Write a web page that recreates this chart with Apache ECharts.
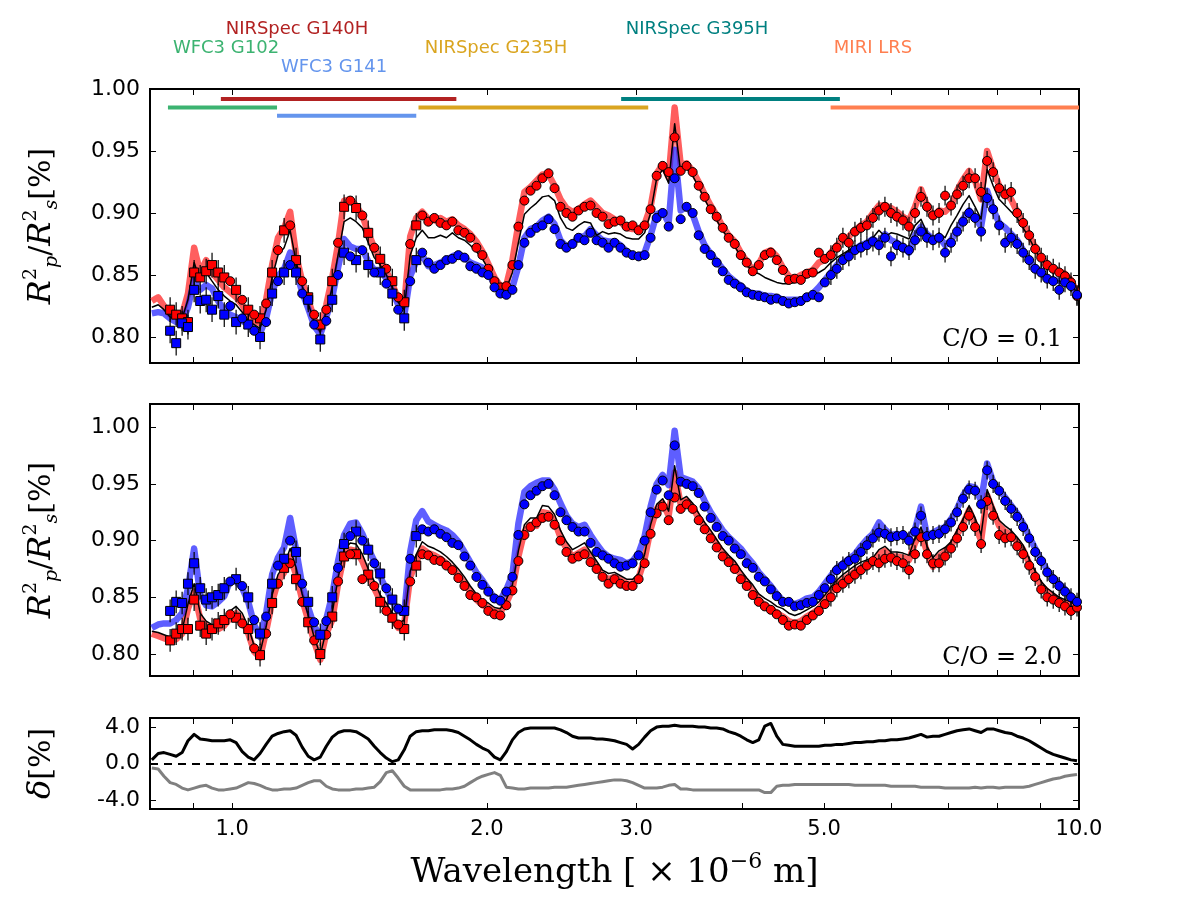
<!DOCTYPE html>
<html>
<head>
<meta charset="utf-8">
<title>Transmission spectra</title>
<script src="https://cdn.jsdelivr.net/npm/echarts@6/dist/echarts.min.js"></script>
<style>
body { margin: 0; background: #fff; }
#main { width: 1200px; height: 900px; }
</style>
</head>
<body>
<div id="main"></div>
<script type="text/javascript">
// wavelength grid [micron]
var wave = [
  0.804,0.818,0.831,0.845,0.859,0.873,0.887,0.902,0.917,0.932,
  0.947,0.963,0.979,0.995,1.011,1.028,1.045,1.062,1.079,1.097,
  1.115,1.133,1.152,1.171,1.190,1.210,1.230,1.250,1.271,1.292,
  1.313,1.334,1.356,1.379,1.401,1.425,1.448,1.472,1.496,1.521,
  1.546,1.571,1.597,1.623,1.650,1.677,1.705,1.733,1.762,1.791,
  1.820,1.850,1.881,1.911,1.943,1.975,2.007,2.041,2.074,2.108,
  2.143,2.178,2.214,2.251,2.288,2.325,2.364,2.403,2.442,2.482,
  2.523,2.565,2.607,2.650,2.694,2.738,2.783,2.829,2.875,2.923,
  2.971,3.020,3.070,3.120,3.172,3.224,3.277,3.331,3.386,3.441,
  3.498,3.556,3.614,3.674,3.734,3.796,3.858,3.922,3.987,4.052,
  4.119,4.187,4.256,4.326,4.397,4.470,4.543,4.618,4.694,4.771,
  4.850,4.930,5.011,5.094,5.177,5.263,5.349,5.438,5.527,5.618,
  5.711,5.805,5.900,5.998,6.096,6.197,6.299,6.403,6.508,6.615,
  6.724,6.835,6.948,7.062,7.178,7.297,7.417,7.539,7.663,7.789,
  7.918,8.048,8.181,8.315,8.452,8.591,8.733,8.877,9.023,9.172,
  9.323,9.476,9.626,9.785,9.946
];

// C/O = 0.1 : models
var red1 = [
  0.829,0.832,0.825,0.818,0.817,0.818,0.835,0.872,0.852,0.862,
  0.852,0.846,0.840,0.836,0.832,0.826,0.817,0.813,0.811,0.830,
  0.858,0.880,0.888,0.901,0.866,0.845,0.830,0.815,0.806,0.826,
  0.848,0.875,0.910,0.911,0.906,0.898,0.884,0.872,0.862,0.853,
  0.843,0.830,0.826,0.881,0.896,0.901,0.895,0.894,0.896,0.893,
  0.895,0.890,0.887,0.883,0.877,0.869,0.859,0.848,0.841,0.842,
  0.862,0.891,0.917,0.921,0.926,0.931,0.931,0.922,0.911,0.904,
  0.901,0.903,0.907,0.910,0.905,0.900,0.898,0.895,0.893,0.888,
  0.887,0.887,0.891,0.905,0.932,0.939,0.929,0.985,0.939,0.940,
  0.934,0.925,0.915,0.906,0.898,0.889,0.882,0.877,0.868,0.861,
  0.854,0.859,0.868,0.870,0.865,0.856,0.849,0.847,0.850,0.852,
  0.854,0.860,0.862,0.868,0.874,0.878,0.881,0.886,0.890,0.893,
  0.900,0.906,0.906,0.904,0.901,0.897,0.894,0.905,0.919,0.906,
  0.897,0.902,0.901,0.906,0.918,0.927,0.934,0.926,0.911,0.950,
  0.935,0.922,0.916,0.911,0.901,0.892,0.882,0.872,0.864,0.859,
  0.855,0.853,0.851,0.846,0.836
];
var blue1 = [
  0.819,0.820,0.819,0.815,0.812,0.812,0.824,0.846,0.838,0.842,
  0.839,0.829,0.821,0.818,0.816,0.813,0.810,0.806,0.803,0.815,
  0.836,0.849,0.855,0.868,0.854,0.836,0.823,0.809,0.802,0.816,
  0.832,0.856,0.879,0.873,0.871,0.871,0.861,0.854,0.854,0.847,
  0.837,0.826,0.817,0.849,0.861,0.866,0.857,0.858,0.860,0.862,
  0.865,0.867,0.864,0.860,0.858,0.856,0.851,0.843,0.838,0.836,
  0.840,0.857,0.880,0.887,0.889,0.894,0.897,0.891,0.878,0.873,
  0.875,0.881,0.881,0.887,0.882,0.878,0.877,0.877,0.874,0.869,
  0.866,0.865,0.868,0.882,0.899,0.901,0.892,0.951,0.902,0.905,
  0.899,0.885,0.874,0.867,0.861,0.855,0.849,0.845,0.841,0.837,
  0.835,0.835,0.833,0.833,0.832,0.830,0.830,0.830,0.830,0.831,
  0.835,0.840,0.846,0.852,0.858,0.863,0.867,0.871,0.874,0.876,
  0.879,0.876,0.883,0.878,0.876,0.873,0.868,0.882,0.889,0.883,
  0.879,0.881,0.874,0.878,0.886,0.895,0.902,0.896,0.889,0.918,
  0.903,0.892,0.888,0.883,0.878,0.870,0.862,0.855,0.852,0.847,
  0.846,0.845,0.844,0.841,0.835
];
var black1 = [
  0.824,0.826,0.822,0.816,0.815,0.815,0.830,0.860,0.845,0.852,
  0.845,0.838,0.833,0.829,0.826,0.820,0.813,0.810,0.807,0.822,
  0.848,0.866,0.872,0.886,0.861,0.841,0.827,0.812,0.804,0.821,
  0.840,0.866,0.893,0.896,0.893,0.888,0.876,0.864,0.858,0.850,
  0.840,0.828,0.822,0.866,0.880,0.886,0.880,0.880,0.882,0.880,
  0.884,0.880,0.878,0.874,0.869,0.863,0.855,0.846,0.840,0.839,
  0.852,0.876,0.899,0.904,0.908,0.913,0.914,0.910,0.896,0.888,
  0.886,0.890,0.893,0.892,0.882,0.885,0.883,0.884,0.883,0.880,
  0.879,0.879,0.884,0.900,0.928,0.935,0.924,0.972,0.933,0.936,
  0.930,0.921,0.911,0.902,0.894,0.886,0.879,0.873,0.865,0.858,
  0.853,0.851,0.848,0.846,0.844,0.843,0.843,0.844,0.846,0.848,
  0.850,0.852,0.855,0.860,0.864,0.867,0.870,0.873,0.875,0.877,
  0.880,0.886,0.881,0.884,0.883,0.881,0.879,0.890,0.895,0.884,
  0.880,0.884,0.880,0.890,0.898,0.907,0.914,0.905,0.895,0.935,
  0.922,0.911,0.906,0.901,0.896,0.888,0.880,0.870,0.862,0.857,
  0.853,0.851,0.849,0.844,0.835
];
// C/O = 0.1 : simulated observations
var redObs1 = [
  null,null,null,0.822,0.818,0.815,0.812,0.852,0.848,0.853,
  0.858,0.852,0.848,0.845,0.838,0.830,0.822,0.818,0.815,0.827,
  0.852,0.870,0.886,0.890,0.862,0.845,0.832,0.818,0.810,0.822,
  0.845,0.876,0.905,0.910,0.904,0.898,0.884,0.872,0.863,0.855,
  0.845,0.832,0.828,0.875,0.890,0.898,0.893,0.896,0.892,0.890,
  0.893,0.886,0.884,0.880,0.872,0.866,0.855,0.845,0.840,0.841,
  0.858,0.889,0.910,0.918,0.922,0.928,0.932,0.920,0.905,0.900,
  0.897,0.902,0.905,0.906,0.900,0.897,0.891,0.893,0.894,0.889,
  0.890,0.886,0.890,0.903,0.930,0.938,0.933,0.961,0.934,0.938,
  0.933,0.922,0.913,0.903,0.897,0.888,0.880,0.875,0.866,0.860,
  0.853,0.858,0.866,0.868,0.862,0.854,0.846,0.847,0.846,0.851,
  0.852,0.868,0.863,0.866,0.872,0.880,0.876,0.885,0.888,0.890,
  0.896,0.902,0.905,0.900,0.897,0.894,0.889,0.900,0.913,0.905,
  0.898,0.900,0.914,0.906,0.915,0.922,0.928,0.928,0.917,0.942,
  0.933,0.920,0.915,0.917,0.900,0.892,0.882,0.871,0.864,0.858,
  0.855,0.852,0.849,0.844,0.833
];
var blueObs1 = [
  null,null,null,0.805,0.795,0.811,0.808,0.838,0.829,0.830,
  0.822,0.833,0.818,0.825,0.812,0.815,0.810,0.805,0.800,0.812,
  0.835,0.845,0.852,0.858,0.852,0.835,0.830,0.810,0.798,0.813,
  0.830,0.850,0.868,0.865,0.862,0.870,0.858,0.852,0.852,0.843,
  0.835,0.822,0.815,0.845,0.862,0.868,0.860,0.855,0.858,0.862,
  0.863,0.866,0.864,0.857,0.855,0.852,0.850,0.840,0.835,0.834,
  0.838,0.858,0.876,0.884,0.888,0.890,0.895,0.887,0.875,0.872,
  0.875,0.880,0.878,0.884,0.878,0.876,0.872,0.876,0.872,0.868,
  0.866,0.865,0.866,0.880,0.896,0.900,0.889,0.928,0.895,0.905,
  0.900,0.882,0.871,0.866,0.860,0.853,0.846,0.843,0.840,0.836,
  0.834,0.833,0.832,0.830,0.831,0.829,0.827,0.828,0.829,0.832,
  0.834,0.832,0.844,0.850,0.855,0.862,0.865,0.870,0.872,0.874,
  0.877,0.874,0.880,0.865,0.874,0.872,0.870,0.878,0.885,0.880,
  0.878,0.880,0.868,0.876,0.885,0.893,0.900,0.896,0.885,0.912,
  0.903,0.890,0.876,0.880,0.875,0.868,0.862,0.855,0.852,0.847,
  0.845,0.838,0.844,0.841,0.834
];

// C/O = 2.0 : models
var red2 = [
  0.818,0.816,0.814,0.812,0.813,0.818,0.840,0.855,0.831,0.825,
  0.822,0.822,0.825,0.832,0.836,0.830,0.818,0.802,0.797,0.820,
  0.846,0.864,0.872,0.886,0.870,0.848,0.830,0.811,0.795,0.818,
  0.830,0.862,0.887,0.892,0.891,0.882,0.869,0.858,0.847,0.840,
  0.832,0.823,0.827,0.868,0.881,0.893,0.889,0.887,0.884,0.880,
  0.875,0.869,0.862,0.855,0.848,0.843,0.841,0.837,0.837,0.845,
  0.857,0.886,0.908,0.914,0.913,0.925,0.924,0.917,0.903,0.893,
  0.886,0.889,0.892,0.884,0.877,0.869,0.866,0.868,0.865,0.862,
  0.862,0.867,0.884,0.910,0.928,0.933,0.922,0.960,0.932,0.935,
  0.929,0.920,0.912,0.905,0.897,0.889,0.883,0.878,0.870,0.863,
  0.856,0.848,0.843,0.840,0.836,0.833,0.829,0.827,0.829,0.833,
  0.836,0.840,0.847,0.854,0.860,0.865,0.869,0.873,0.876,0.878,
  0.880,0.888,0.891,0.886,0.886,0.885,0.883,0.898,0.907,0.890,
  0.877,0.886,0.890,0.895,0.905,0.915,0.927,0.914,0.900,0.940,
  0.926,0.913,0.908,0.905,0.899,0.892,0.880,0.869,0.860,0.855,
  0.851,0.847,0.845,0.843,0.840
];
var blue2 = [
  0.823,0.826,0.827,0.827,0.830,0.836,0.858,0.893,0.852,0.843,
  0.842,0.846,0.851,0.865,0.864,0.858,0.846,0.826,0.815,0.836,
  0.870,0.885,0.894,0.920,0.892,0.861,0.841,0.825,0.815,0.831,
  0.852,0.882,0.905,0.915,0.916,0.906,0.893,0.882,0.868,0.857,
  0.846,0.838,0.836,0.890,0.918,0.926,0.917,0.914,0.911,0.909,
  0.905,0.899,0.890,0.881,0.872,0.865,0.857,0.849,0.848,0.857,
  0.870,0.915,0.943,0.948,0.951,0.953,0.953,0.945,0.933,0.922,
  0.915,0.912,0.914,0.905,0.897,0.890,0.886,0.884,0.883,0.880,
  0.882,0.889,0.904,0.930,0.950,0.958,0.949,0.997,0.956,0.954,
  0.952,0.946,0.935,0.925,0.917,0.909,0.903,0.898,0.893,0.886,
  0.880,0.872,0.866,0.860,0.853,0.847,0.845,0.844,0.846,0.849,
  0.850,0.855,0.862,0.869,0.876,0.880,0.884,0.888,0.895,0.901,
  0.906,0.916,0.910,0.905,0.906,0.905,0.903,0.910,0.930,0.905,
  0.907,0.910,0.912,0.919,0.928,0.940,0.948,0.947,0.935,0.968,
  0.952,0.945,0.938,0.931,0.924,0.915,0.904,0.893,0.883,0.874,
  0.867,0.862,0.857,0.851,0.845
];
var black2 = [
  0.820,0.819,0.817,0.815,0.816,0.821,0.844,0.862,0.836,0.829,
  0.826,0.826,0.830,0.838,0.842,0.836,0.824,0.807,0.801,0.824,
  0.852,0.870,0.878,0.893,0.876,0.853,0.834,0.815,0.799,0.821,
  0.836,0.867,0.892,0.898,0.897,0.888,0.875,0.864,0.852,0.845,
  0.836,0.827,0.830,0.873,0.888,0.899,0.895,0.893,0.890,0.886,
  0.881,0.875,0.868,0.860,0.853,0.847,0.845,0.841,0.840,0.848,
  0.861,0.891,0.914,0.920,0.920,0.931,0.930,0.923,0.909,0.899,
  0.892,0.895,0.898,0.890,0.882,0.874,0.871,0.872,0.869,0.866,
  0.866,0.871,0.888,0.914,0.932,0.937,0.926,0.966,0.936,0.939,
  0.933,0.924,0.916,0.909,0.901,0.893,0.887,0.882,0.874,0.867,
  0.861,0.853,0.849,0.846,0.842,0.840,0.836,0.834,0.836,0.839,
  0.842,0.846,0.852,0.859,0.865,0.870,0.874,0.878,0.881,0.883,
  0.885,0.892,0.895,0.890,0.890,0.889,0.887,0.902,0.912,0.895,
  0.885,0.891,0.894,0.899,0.909,0.919,0.931,0.920,0.905,0.945,
  0.931,0.918,0.913,0.909,0.903,0.896,0.884,0.873,0.864,0.858,
  0.854,0.850,0.848,0.846,0.842
];
// C/O = 2.0 : simulated observations
var redObs2 = [
  null,null,null,0.812,0.818,0.822,0.822,0.848,0.825,0.818,
  0.822,0.827,0.830,0.835,0.832,0.827,0.822,0.805,0.799,0.818,
  0.845,0.862,0.876,0.880,0.866,0.846,0.828,0.812,0.800,0.817,
  0.833,0.864,0.886,0.888,0.888,0.866,0.870,0.860,0.846,0.838,
  0.832,0.826,0.822,0.864,0.878,0.888,0.887,0.883,0.882,0.878,
  0.874,0.867,0.860,0.852,0.850,0.845,0.838,0.835,0.834,0.843,
  0.856,0.882,0.905,0.912,0.916,0.920,0.921,0.914,0.900,0.890,
  0.884,0.886,0.888,0.881,0.875,0.868,0.862,0.866,0.862,0.860,
  0.860,0.866,0.880,0.906,0.924,0.930,0.918,0.938,0.928,0.932,
  0.928,0.918,0.910,0.902,0.894,0.886,0.881,0.875,0.866,0.860,
  0.852,0.846,0.842,0.839,0.835,0.830,0.825,0.826,0.825,0.830,
  0.834,0.838,0.844,0.850,0.858,0.862,0.866,0.870,0.874,0.878,
  0.882,0.880,0.884,0.885,0.882,0.880,0.874,0.888,0.903,0.888,
  0.880,0.880,0.886,0.893,0.902,0.912,0.922,0.912,0.897,0.935,
  0.922,0.905,0.902,0.903,0.895,0.888,0.878,0.868,0.857,0.850,
  0.848,0.845,0.842,0.838,0.841
];
var blueObs2 = [
  null,null,null,0.838,0.846,0.845,0.862,0.880,0.858,0.848,
  0.850,0.852,0.858,0.864,0.866,0.860,0.850,0.830,0.818,0.833,
  0.862,0.878,0.884,0.900,0.890,0.862,0.846,0.828,0.817,0.829,
  0.850,0.876,0.897,0.904,0.908,0.900,0.892,0.880,0.871,0.858,
  0.848,0.840,0.838,0.884,0.904,0.910,0.908,0.910,0.906,0.903,
  0.898,0.896,0.886,0.878,0.868,0.861,0.855,0.849,0.847,0.855,
  0.868,0.905,0.932,0.940,0.944,0.948,0.950,0.940,0.925,0.918,
  0.912,0.908,0.908,0.898,0.890,0.887,0.884,0.880,0.877,0.878,
  0.880,0.887,0.900,0.925,0.945,0.953,0.940,0.984,0.952,0.950,
  0.948,0.942,0.930,0.920,0.912,0.904,0.900,0.893,0.888,0.880,
  0.876,0.868,0.864,0.857,0.851,0.846,0.846,0.842,0.843,0.845,
  0.846,0.852,0.858,0.866,0.874,0.878,0.882,0.884,0.890,0.896,
  0.902,0.907,0.906,0.903,0.904,0.905,0.900,0.908,0.922,0.904,
  0.905,0.906,0.910,0.916,0.925,0.937,0.945,0.944,0.932,0.962,
  0.950,0.944,0.935,0.928,0.921,0.912,0.902,0.890,0.882,0.872,
  0.866,0.860,0.855,0.850,0.846
];

// relative difference [%]
var deltaHigh = [
  0.4,1.1,1.2,1.0,0.8,1.2,2.5,3.2,2.7,2.6,
  2.5,2.5,2.5,2.6,2.3,1.3,0.7,0.4,1.1,2.1,
  3.0,3.3,3.5,3.6,3.1,1.8,0.8,0.4,0.7,1.9,
  2.9,3.4,3.6,3.6,3.5,3.1,2.7,1.9,1.2,0.6,
  0.2,0.4,1.5,3.0,3.5,3.6,3.6,3.7,3.7,3.7,
  3.6,3.4,3.0,2.6,2.1,1.7,1.4,0.7,0.4,1.3,
  2.6,3.4,3.8,3.9,3.9,3.9,3.9,3.9,3.7,3.4,
  3.0,2.8,2.8,2.8,2.7,2.7,2.6,2.5,2.3,2.1,
  1.6,2.1,2.9,3.6,4.0,4.1,4.1,4.2,4.1,4.1,
  4.1,4.0,4.0,3.9,3.9,3.8,3.5,3.3,3.0,2.6,
  2.3,2.6,4.1,4.4,3.0,2.1,2.0,1.9,1.9,1.9,
  1.9,1.9,2.0,2.0,2.1,2.1,2.2,2.3,2.3,2.4,
  2.4,2.5,2.5,2.6,2.6,2.7,2.8,3.0,3.2,2.9,
  3.0,3.0,3.2,3.4,3.6,3.7,3.8,3.6,3.4,3.8,
  3.8,3.6,3.4,3.3,3.0,2.8,2.5,2.1,1.7,1.3,
  1.0,0.8,0.6,0.4,0.3
];
var deltaLow = [
  -0.5,-0.6,-1.4,-2.1,-2.3,-2.7,-2.9,-2.7,-2.5,-2.4,
  -2.7,-2.9,-2.9,-2.8,-2.7,-2.4,-2.1,-2.2,-2.4,-2.7,
  -2.9,-2.9,-2.8,-2.8,-2.7,-2.4,-2.1,-1.9,-1.9,-2.5,
  -2.8,-2.9,-2.9,-2.9,-2.8,-2.8,-2.7,-2.6,-2.0,-1.0,
  -0.8,-1.6,-2.5,-2.9,-2.9,-2.9,-2.9,-2.9,-2.9,-2.8,
  -2.8,-2.7,-2.5,-2.1,-1.7,-1.4,-1.2,-1.0,-1.3,-2.6,
  -2.7,-2.8,-2.8,-2.7,-2.7,-2.7,-2.7,-2.6,-2.6,-2.6,
  -2.5,-2.4,-2.3,-2.2,-2.1,-2.0,-1.9,-1.8,-1.8,-1.9,
  -2.1,-2.4,-2.7,-2.7,-2.7,-2.6,-2.4,-2.3,-2.8,-2.8,
  -2.9,-2.9,-2.9,-2.9,-2.9,-2.9,-2.9,-2.9,-2.9,-2.9,
  -2.9,-2.9,-3.2,-3.2,-2.5,-2.4,-2.4,-2.3,-2.3,-2.3,
  -2.3,-2.3,-2.3,-2.3,-2.3,-2.3,-2.3,-2.4,-2.4,-2.4,
  -2.4,-2.4,-2.4,-2.5,-2.5,-2.5,-2.5,-2.5,-2.6,-2.6,
  -2.6,-2.6,-2.7,-2.7,-2.7,-2.7,-2.7,-2.6,-2.7,-2.6,
  -2.6,-2.7,-2.6,-2.6,-2.6,-2.6,-2.5,-2.3,-2.1,-1.9,
  -1.7,-1.6,-1.4,-1.3,-1.2
];

// 1-sigma error per instrument
var errHST = 0.010, errNIRSpec = 0.003, errMIRI = 0.008;

// instrument coverage
var instNames = ['WFC3 G102', 'WFC3 G141', 'NIRSpec G140H', 'NIRSpec G235H', 'NIRSpec G395H', 'MIRI LRS'];
var instFrom  = [0.84, 1.13, 0.97, 1.66, 2.88, 5.09];
var instTo    = [1.13, 1.65, 1.84, 3.10, 5.22, 10.0];
var instLevel = [0.985, 0.9785, 0.992, 0.985, 0.992, 0.985];

// axis ticks
var tickWave  = [0.9, 1, 2, 3, 4, 5, 6, 7, 8, 9, 10];
var labelWave = [1, 2, 3, 5, 10];
var specTicks = [0.80, 0.85, 0.90, 0.95, 1.00];
var deltaTicks = [-4, 0, 4];

// ---- styles / layout ----
var instColors = ['#3cb371', '#6495ed', '#b22222', '#daa520', '#008080', '#ff7f50'];
var instLabelPos = [[226, 48], [334, 67], [297, 29], [496, 48], [697, 29], [873, 48]];
var grids = [
  {left: 150, top: 89, width: 929, height: 274},
  {left: 150, top: 404, width: 929, height: 272},
  {left: 150, top: 718, width: 929, height: 91}
];

var myChart = echarts.init(document.getElementById('main'));

function lg(w) { return Math.log10(w); }
var xMin = lg(0.8), xMax = 1;

function xAxis(gi, pos, labels, name) {
  var ax = {
    type: 'value', gridIndex: gi, position: pos, min: xMin, max: xMax,
    axisLine: {show: true, onZero: false, lineStyle: {color: '#000', width: 2}},
    axisTick: {show: true, inside: true, length: 6, customValues: tickWave.map(lg), lineStyle: {color: '#000', width: 1}},
    axisLabel: {
      show: labels, customValues: labelWave.map(lg), margin: 10,
      color: '#000', fontSize: 21, fontFamily: 'DejaVu Sans',
      formatter: function (v) { return Math.pow(10, v).toFixed(1); }
    },
    splitLine: {show: false}
  };
  if (name) {
    ax.name = name;
    ax.nameLocation = 'middle';
    ax.nameGap = 42;
    ax.nameTextStyle = {
      color: '#000', fontFamily: 'DejaVu Serif', fontSize: 34,
      rich: {
        n: {fontFamily: 'DejaVu Serif', fontSize: 34, color: '#000', lineHeight: 44},
        s: {fontFamily: 'DejaVu Serif', fontSize: 22, color: '#000', verticalAlign: 'top', lineHeight: 44}
      }
    };
  }
  return ax;
}

function yAxis(gi, pos, lo, hi, ticks, digits, labels, name) {
  var ax = {
    type: 'value', gridIndex: gi, position: pos, min: lo, max: hi,
    axisLine: {show: true, onZero: false, lineStyle: {color: '#000', width: 2}},
    axisTick: {show: true, inside: true, length: 6, customValues: ticks, lineStyle: {color: '#000', width: 1}},
    axisLabel: {
      show: labels, customValues: ticks, margin: 10,
      color: '#000', fontSize: 22, fontFamily: 'DejaVu Sans',
      formatter: function (v) { return v.toFixed(digits); }
    },
    splitLine: {show: false}
  };
  if (name) {
    ax.name = name;
    ax.nameLocation = 'middle';
    ax.nameRotate = 90;
    ax.nameGap = 88;
    ax.nameTextStyle = {
      color: '#000',
      rich: {
        i: {fontFamily: 'DejaVu Serif', fontStyle: 'italic', fontSize: 32, color: '#000', lineHeight: 40},
        sp: {fontFamily: 'DejaVu Serif', fontSize: 19, color: '#000', verticalAlign: 'top', lineHeight: 40},
        sb: {fontFamily: 'DejaVu Serif', fontStyle: 'italic', fontSize: 19, color: '#000', verticalAlign: 'bottom', lineHeight: 40},
        n: {fontFamily: 'DejaVu Serif', fontSize: 30, color: '#000', lineHeight: 40}
      }
    };
  }
  return ax;
}

var ratioName = '{i|R}{sp|2}{sb|p}{n|/}{i|R}{sp|2}{sb|s}{n|[%]}';

function isSquare(i) {
  return wave[i] < 0.97 || (wave[i] < 1.66 && i % 2 === 0);
}
function errOf(i) {
  if (isSquare(i)) return errHST;
  return wave[i] < 5.05 ? errNIRSpec : errMIRI;
}

function modelLine(p, ys, color, width, opacity, z) {
  return {
    type: 'line', xAxisIndex: 2 * p, yAxisIndex: 2 * p, z: z, silent: true,
    symbol: 'none', data: wave.map(function (w, i) { return [lg(w), ys[i]]; }),
    lineStyle: {color: color, width: width, opacity: opacity, join: 'round'}
  };
}

function errBars(p, ys) {
  var d = [];
  ys.forEach(function (y, i) {
    if (y == null) return;
    var e = errOf(i);
    d.push([lg(wave[i]), y - e, y + e]);
  });
  return {
    type: 'custom', xAxisIndex: 2 * p, yAxisIndex: 2 * p, z: 4, silent: true,
    data: d, encode: {x: 0, y: [1, 2]},
    renderItem: function (params, api) {
      var a = api.coord([api.value(0), api.value(1)]);
      var b = api.coord([api.value(0), api.value(2)]);
      return {type: 'line', shape: {x1: a[0], y1: a[1], x2: b[0], y2: b[1]},
        style: {stroke: '#000', lineWidth: 1.2}};
    }
  };
}

function obsPoints(p, ys, color, square) {
  var d = [];
  ys.forEach(function (y, i) {
    if (y == null || isSquare(i) !== square) return;
    d.push([lg(wave[i]), y]);
  });
  return {
    type: 'scatter', xAxisIndex: 2 * p, yAxisIndex: 2 * p, z: 5, silent: true,
    symbol: square ? 'rect' : 'circle', symbolSize: 9,
    itemStyle: {color: color, borderColor: '#000', borderWidth: 1, opacity: 1},
    data: d
  };
}

var series = [];
// panel 1 (C/O = 0.1)
series.push(modelLine(0, red1, '#ff1a1a', 6.5, 0.7, 2));
series.push(modelLine(0, blue1, '#1a1aff', 6.5, 0.7, 2));
series.push(modelLine(0, black1, '#000', 1.5, 1, 3));
series.push(errBars(0, redObs1), errBars(0, blueObs1));
series.push(obsPoints(0, redObs1, '#ff0000', true), obsPoints(0, redObs1, '#ff0000', false));
series.push(obsPoints(0, blueObs1, '#0000ff', true), obsPoints(0, blueObs1, '#0000ff', false));
instNames.forEach(function (n, k) {
  series.push({
    type: 'line', name: n, xAxisIndex: 0, yAxisIndex: 0, z: 6, silent: true, symbol: 'none',
    data: [[lg(instFrom[k]), instLevel[k]], [lg(instTo[k]), instLevel[k]]],
    lineStyle: {color: instColors[k], width: 4}
  });
});
// panel 2 (C/O = 2.0)
series.push(modelLine(1, red2, '#ff1a1a', 6.5, 0.7, 2));
series.push(modelLine(1, blue2, '#1a1aff', 6.5, 0.7, 2));
series.push(modelLine(1, black2, '#000', 1.5, 1, 3));
series.push(errBars(1, redObs2), errBars(1, blueObs2));
series.push(obsPoints(1, redObs2, '#ff0000', true), obsPoints(1, redObs2, '#ff0000', false));
series.push(obsPoints(1, blueObs2, '#0000ff', true), obsPoints(1, blueObs2, '#0000ff', false));
// panel 3 (difference)
series.push(modelLine(2, deltaHigh, '#000', 3, 1, 3));
series.push(modelLine(2, deltaLow, '#808080', 3, 1, 3));
series[series.length - 1].markLine = {
  silent: true, symbol: 'none', label: {show: false},
  lineStyle: {color: '#000', type: [8, 6], width: 2},
  data: [{yAxis: 0}]
};

var graphics = instNames.map(function (n, k) {
  return {
    type: 'text', x: instLabelPos[k][0], y: instLabelPos[k][1],
    style: {text: n, fill: instColors[k], font: '18px "DejaVu Sans"', textAlign: 'center', textVerticalAlign: 'middle'}
  };
});
graphics.push({type: 'text', x: 1062, y: 340,
  style: {text: 'C/O = 0.1', fill: '#000', font: '24px "DejaVu Serif"', textAlign: 'right', textVerticalAlign: 'middle'}});
graphics.push({type: 'text', x: 1062, y: 658,
  style: {text: 'C/O = 2.0', fill: '#000', font: '24px "DejaVu Serif"', textAlign: 'right', textVerticalAlign: 'middle'}});

var chartOption = {
  animation: false,
  backgroundColor: '#fff',
  grid: grids.map(function (g) {
    return {left: g.left, top: g.top, width: g.width, height: g.height, show: true,
      borderColor: '#000', borderWidth: 2, backgroundColor: 'transparent'};
  }),
  xAxis: [
    xAxis(0, 'bottom', false), xAxis(0, 'top', false),
    xAxis(1, 'bottom', false), xAxis(1, 'top', false),
    xAxis(2, 'bottom', true, '{n|Wavelength [ × 10}{s|−6}{n| m]}'), xAxis(2, 'top', false)
  ],
  yAxis: [
    yAxis(0, 'left', 0.779, 1.0, specTicks, 2, true, ratioName), yAxis(0, 'right', 0.779, 1.0, specTicks, 2, false),
    yAxis(1, 'left', 0.7806, 1.0205, specTicks, 2, true, ratioName), yAxis(1, 'right', 0.7806, 1.0205, specTicks, 2, false),
    yAxis(2, 'left', -5, 5, deltaTicks, 1, true, '{i|δ}{n|[%]}'), yAxis(2, 'right', -5, 5, deltaTicks, 1, false)
  ],
  series: series,
  graphic: graphics
};

myChart.setOption(chartOption);
</script>
</body>
</html>
